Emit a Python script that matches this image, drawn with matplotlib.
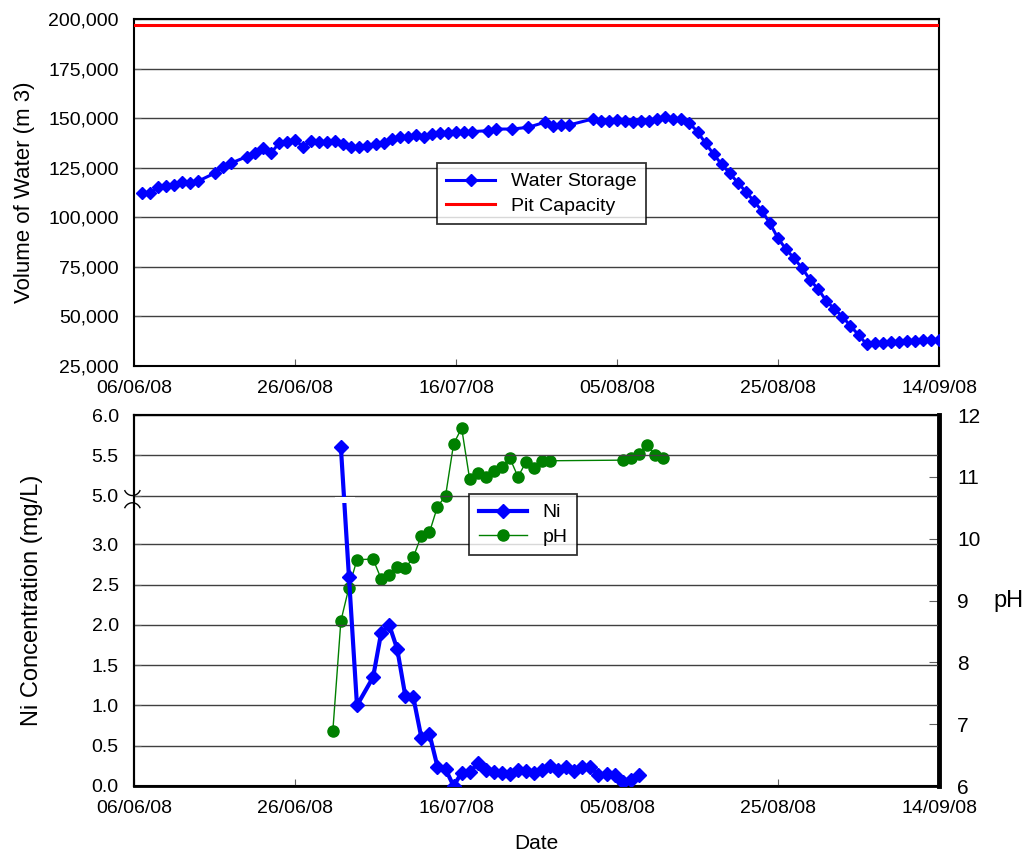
import numpy as np
import pandas as pd
import matplotlib
matplotlib.use("Agg")
import matplotlib.pyplot as plt
from matplotlib.patches import Rectangle
from matplotlib.transforms import blended_transform_factory

plt.rcParams['font.family'] = ['Liberation Sans', 'DejaVu Sans']

# ------------------------------------------------------------------------------
# Data (days counted from 06/06/08)
# ------------------------------------------------------------------------------
base_date = pd.Timestamp("2008-06-06")
tick_days = [0, 20, 40, 60, 80, 100]

storage_days = [1, 2, 3, 4, 5, 6, 7, 8, 10, 11, 12, 14, 15, 16, 17, 18, 19, 20,
                21, 22, 23, 24, 25, 26, 27, 28, 29, 30, 31, 32, 33, 34, 35, 36,
                37, 38, 39, 40, 41, 42, 44, 45, 47, 49, 51, 52, 53, 54, 57, 58,
                59, 60, 61, 62, 63, 64, 65, 66, 67, 68, 69, 70, 71, 72, 73, 74,
                75, 76, 77, 78, 79, 80, 81, 82, 83, 84, 85, 86, 87, 88, 89, 90,
                91, 92, 93, 94, 95, 96, 97, 98, 99, 100]
storage_m3 = [112000, 112000, 115100, 115800, 116100, 117600, 117100, 118300,
              122200, 125500, 127200, 130600, 132600, 134800, 132300, 137300,
              138100, 139000, 135600, 138500, 138100, 138100, 138500, 136800,
              135300, 135300, 136000, 137000, 137600, 139300, 140300, 140300,
              141500, 140600, 141800, 142300, 142300, 142800, 142800, 143200,
              143700, 144500, 144500, 145400, 147900, 146000, 146500, 146500,
              149600, 148700, 148700, 149100, 148600, 148200, 148600, 148600,
              149600, 150800, 149600, 149600, 147400, 143200, 137300, 131800,
              126700, 122200, 117500, 112900, 108200, 103200, 97000, 89400,
              83900, 79300, 74300, 68400, 63700, 57800, 53800, 49900, 45200,
              40700, 36000, 36400, 36800, 37000, 37300, 37600, 37800, 38100,
              38100, 38100]

capacity_days = [0, 100]
capacity_m3 = [197000, 197000]

ni_days = [25.7, 26.7, 27.7] + [29.7 + i for i in range(34)]
ni_mgl = [5.6, 2.6, 1.0, 1.35, 1.9, 2.0, 1.70, 1.12, 1.10, 0.60, 0.645, 0.24,
          0.21, 0.0, 0.165, 0.17, 0.28, 0.20, 0.18, 0.16, 0.145, 0.20, 0.19,
          0.16, 0.20, 0.25, 0.20, 0.23, 0.19, 0.24, 0.24, 0.135, 0.15, 0.135,
          0.055, 0.075, 0.135]

ph_days = ([24.7, 25.7, 26.7, 27.7] + [29.7 + i for i in range(23)]
           + [60.7 + i for i in range(6)])
ph_vals = [6.89, 8.67, 9.21, 9.66, 9.67, 9.35, 9.41, 9.54, 9.52, 9.70, 10.05,
           10.10, 10.52, 10.69, 11.53, 11.79, 10.96, 11.06, 10.99, 11.09, 11.16,
           11.30, 11.0, 11.24, 11.15, 11.26, 11.26, 11.27, 11.31, 11.37, 11.52,
           11.36, 11.31]

# broken Ni axis: 0-3 drawn as is, 5-6 shifted down to sit just above 3
break_lo, break_hi, break_at = 3.0, 5.0, 3.606
def ni_axis(v):
    v = np.asarray(v, dtype=float)
    return np.where(v > break_lo, v - break_hi + break_at, v)

ni_tick_vals = [0.0, 0.5, 1.0, 1.5, 2.0, 2.5, 3.0, 5.0, 5.5, 6.0]

tick_labels = [(base_date + pd.Timedelta(days=d)).strftime("%d/%m/%y") for d in tick_days]

FS = 14
GRID = dict(color="#404040", linewidth=1.0)

fig = plt.figure(figsize=(10.22, 8.57), dpi=100)

# ------------------------------------------------------------------------------
# Top: water storage
# ------------------------------------------------------------------------------
ax1 = fig.add_axes([134 / 1022, 1 - 366 / 857, 805 / 1022, 347 / 857])
ax1.plot(storage_days, storage_m3, color="blue", linewidth=2.2, marker="D",
         markersize=6, label="Water Storage", zorder=3)
ax1.plot(capacity_days, capacity_m3, color="red", linewidth=2.2,
         label="Pit Capacity", zorder=3)
ax1.set_xlim(0, 100)
ax1.set_ylim(25000, 200000)
ax1.set_yticks(range(25000, 200001, 25000))
ax1.set_yticklabels([f"{v:,}" for v in range(25000, 200001, 25000)], fontsize=FS)
ax1.set_xticks(tick_days)
ax1.set_xticklabels(tick_labels, fontsize=FS)
ax1.yaxis.grid(True, **GRID)
ax1.set_axisbelow(True)
ax1.tick_params(direction="in", length=5, color="#606060")
ax1.tick_params(axis="x", pad=10)
ax1.tick_params(axis="y", pad=11)
ax1.set_ylabel("Volume of Water (m 3)", fontsize=16)
ax1.yaxis.set_label_coords(-0.123, 0.5)
for s in ax1.spines.values():
    s.set_linewidth(1.5)
leg1 = ax1.legend(loc="upper left", bbox_to_anchor=(0.376, 0.585), fontsize=FS,
                  frameon=True, fancybox=False, edgecolor="black",
                  handlelength=2.5, borderaxespad=0, borderpad=0.5, labelspacing=0.35)
leg1.get_frame().set_linewidth(1.3)

# ------------------------------------------------------------------------------
# Bottom: Ni and pH
# ------------------------------------------------------------------------------
ax2 = fig.add_axes([134 / 1022, 1 - 786 / 857, 805 / 1022, 371 / 857])
ax3 = ax2.twinx()
ax2.set_zorder(ax3.get_zorder() + 1)
ax2.patch.set_visible(False)

ni_line, = ax2.plot(ni_days, ni_axis(ni_mgl), color="blue", linewidth=3,
                    marker="D", markersize=7, label="Ni", zorder=3)
ph_line, = ax3.plot(ph_days, ph_vals, color="green", linewidth=1,
                    marker="o", markersize=8, label="pH", zorder=3)

# gap in the Ni line where it crosses the axis break
ax2.add_patch(Rectangle((25, break_at - 0.095), 2.5, 0.08, facecolor="white",
                        edgecolor="none", zorder=4))

ax2.set_xlim(0, 100)
ax2.set_ylim(0, break_at + 1.0)
ax2.set_yticks(ni_axis(ni_tick_vals))
ax2.set_yticklabels([f"{v:.1f}" for v in ni_tick_vals], fontsize=FS)
ax2.set_xticks(tick_days)
ax2.set_xticklabels(tick_labels, fontsize=FS)
ax2.yaxis.grid(True, **GRID)
ax2.tick_params(direction="in", length=5, color="#606060")
ax2.tick_params(axis="x", pad=10)
ax2.tick_params(axis="y", pad=11)
ax2.set_ylabel("Ni Concentration (mg/L)", fontsize=17)
ax2.yaxis.set_label_coords(-0.113, 0.5)
ax2.set_xlabel("Date", fontsize=15, labelpad=12)

ax3.set_ylim(6, 12)
ax3.set_yticks(range(6, 13))
ax3.tick_params(direction="in", length=7, color="#606060", labelsize=15, pad=13)
ax3.set_ylabel("pH", fontsize=17, rotation=0, labelpad=20, va="center")

for s in ax2.spines.values():
    s.set_linewidth(1.5)
for s in ax3.spines.values():
    s.set_linewidth(1.5)
ax3.spines["right"].set_linewidth(3.5)
ax2.spines["bottom"].set_linewidth(2.0)

# axis break symbol on the left spine
tr = blended_transform_factory(ax2.transAxes, ax2.transData)
t = np.linspace(np.pi * 1.15, np.pi * 1.85, 30)
ax2.plot(0.0105 * np.cos(t) - 0.002, break_at + 0.11 + 0.11 * np.sin(t),
         color="black", linewidth=1.0, transform=tr, clip_on=False)
ax2.plot(0.0105 * np.cos(t) - 0.002, break_at - 0.20 - 0.11 * np.sin(t),
         color="black", linewidth=1.0, transform=tr, clip_on=False)

leg2 = ax2.legend([ni_line, ph_line], ["Ni", "pH"], loc="upper left",
                  bbox_to_anchor=(0.416, 0.787), fontsize=FS, frameon=True,
                  fancybox=False, edgecolor="black", handlelength=2.5,
                  borderaxespad=0, borderpad=0.5, labelspacing=0.35)
leg2.get_frame().set_linewidth(1.3)

fig.savefig("out.png", dpi=100)
